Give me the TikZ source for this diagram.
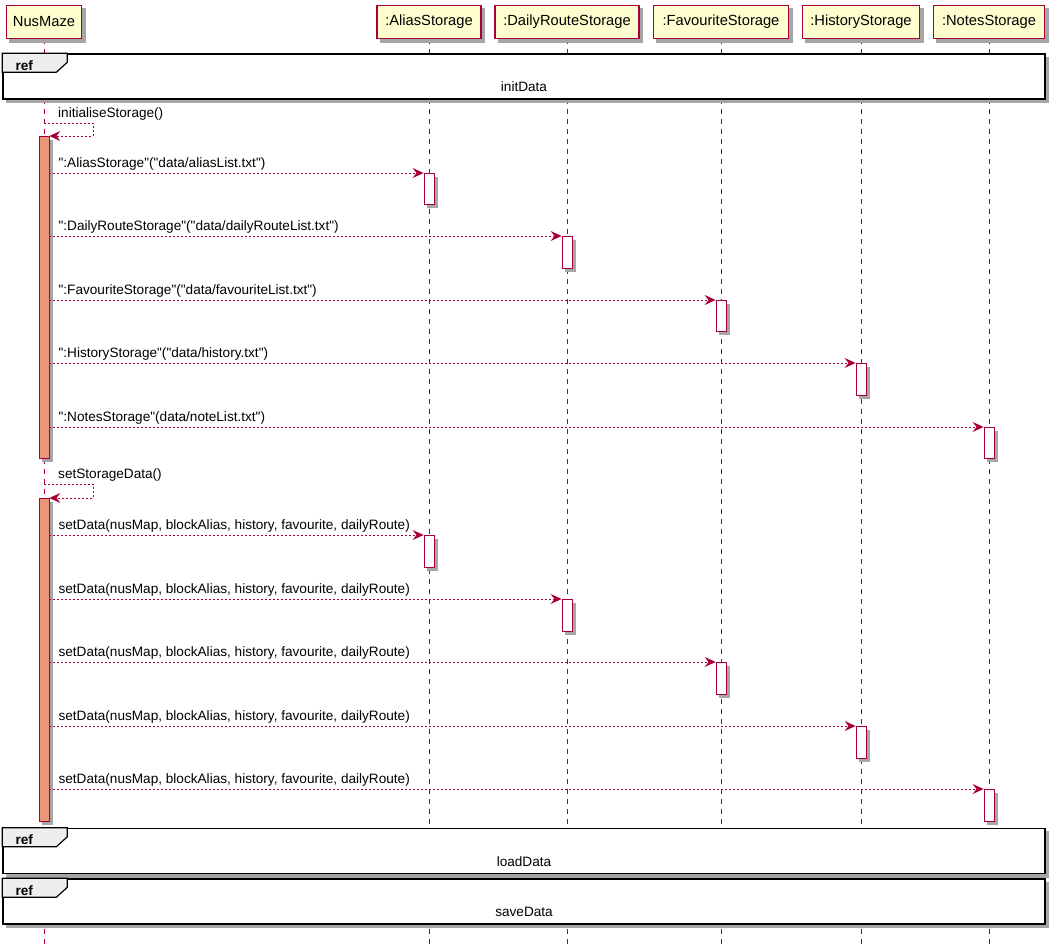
\documentclass[tikz,border=0pt]{standalone}
\usepackage{fontspec}
\setmainfont{Liberation Sans}[Ligatures=TeXOff]
\usetikzlibrary{arrows.meta,calc}
\definecolor{pu}{HTML}{A80036}
\definecolor{pbox}{HTML}{FEFECE}
\definecolor{actfill}{HTML}{E9967A}
\definecolor{tabfill}{HTML}{EEEEEE}
\definecolor{shadowc}{HTML}{A6A6A6}
\pgfdeclarelayer{lines}
\pgfdeclarelayer{shad}
\pgfsetlayers{lines,shad,main}
\newcommand{\dropsh}[1]{%
  \begin{pgfonlayer}{shad}
    \fill[shadowc] ($(#1.north west)+(3.5,3.5)$) rectangle ($(#1.south east)+(3.5,3.5)$);
  \end{pgfonlayer}}
\begin{document}
\begin{tikzpicture}[x=1pt,y=-1pt,
  font=\fontsize{13.6}{16}\selectfont,
  part/.style={draw=pu,line width=1.1pt,fill=pbox,minimum height=33,inner sep=0,font=\fontsize{14.7}{17}\selectfont},
  lifeline/.style={draw=pu,line width=0.8pt,dash pattern=on 5pt off 5pt},
  refframe/.style={draw=black,line width=1.4pt,fill=white,minimum width=1042,minimum height=45,inner sep=0},
  tabshape/.style={draw=black,line width=1.2pt,fill=tabfill},
  reflabel/.style={inner sep=0},
  bar/.style={draw=pu,line width=0.8pt,fill=white,minimum width=10,inner sep=0,anchor=north},
  mainbar/.style={bar,fill=actfill},
  msg/.style={draw=pu,line width=0.8pt,dash pattern=on 2pt off 2pt,-{Stealth[length=11pt,width=10pt,inset=4pt]}},
  lbl/.style={inner sep=0,anchor=base west}
]
\useasboundingbox (0,0) rectangle (1055,945);
% lifelines (lowest layer)
\begin{pgfonlayer}{lines}
\foreach \n/\x in {nus/44,alias/429,daily/567,fav/721,hist/861,notes/989}{
  \coordinate (\n-top) at (\x,39);
  \coordinate (\n-end) at (\x,945);
  \draw[lifeline] (\n-top) -- (\n-end);
}
\end{pgfonlayer}
% participants
\node[part,minimum width=75] (nus) at (44,22) {NusMaze};
\node[part,minimum width=104] (alias) at (429,22) {:AliasStorage};
\node[part,minimum width=144] (daily) at (567,22) {:DailyRouteStorage};
\node[part,minimum width=135] (fav) at (721,22) {:FavouriteStorage};
\node[part,minimum width=117] (hist) at (861,22) {:HistoryStorage};
\node[part,minimum width=111] (notes) at (989,22) {:NotesStorage};
\foreach \n in {nus,alias,daily,fav,hist,notes}{\dropsh{\n}}
% ref frames
\node[refframe] (ref1) at (524,76.5) {};
\node[refframe] (ref2) at (524,851) {};
\node[refframe] (ref3) at (524,901.5) {};
\foreach \r/\t in {ref1/initData,ref2/loadData,ref3/saveData}{
  \dropsh{\r}
  \draw[tabshape] (\r.north west) -- ++(65,0) -- ++(0,9) -- ++(-11,10) -- ($(\r.north west)+(0,19)$) -- cycle;
  \node[inner sep=0,font=\fontsize{13.6}{16}\selectfont\bfseries] (\r-tag) at ($(\r.north west)+(22,12)$) {ref};
  \node[reflabel] (\r-text) at ($(\r.center)+(0,10.5)$) {\t};
}
% activation bars
\node[mainbar,minimum height=322] (act1) at (44,136) {};
\node[mainbar,minimum height=323] (act2) at (44,498) {};
\node[bar,minimum height=31] (b1) at (429,173) {};
\node[bar,minimum height=32] (b2) at (567,236) {};
\node[bar,minimum height=31] (b3) at (721,300) {};
\node[bar,minimum height=32] (b4) at (861,363) {};
\node[bar,minimum height=31] (b5) at (989,427) {};
\node[bar,minimum height=32] (b6) at (429,535) {};
\node[bar,minimum height=32] (b7) at (567,599) {};
\node[bar,minimum height=32] (b8) at (721,662) {};
\node[bar,minimum height=32] (b9) at (861,726) {};
\node[bar,minimum height=32] (b10) at (989,789) {};
\foreach \n in {act1,act2,b1,b2,b3,b4,b5,b6,b7,b8,b9,b10}{\dropsh{\n}}
% self messages
\coordinate (s1) at (44,123);
\coordinate (s2) at (44,484);
\draw[msg] (s1) -- ++(49,0) |- (act1.north east);
\draw[msg] (s2) -- ++(49,0) |- (act2.north east);
\node[lbl] (l0) at (58,117) {initialiseStorage()};
\node[lbl] (l00) at (58,478) {setStorageData()};
% messages
\foreach \b/\a/\t in {b1/act1/{":AliasStorage"("data/aliasList.txt")},
                      b2/act1/{":DailyRouteStorage"("data/dailyRouteList.txt")},
                      b3/act1/{":FavouriteStorage"("data/favouriteList.txt")},
                      b4/act1/{":HistoryStorage"("data/history.txt")},
                      b5/act1/{":NotesStorage"(data/noteList.txt")},
                      b6/act2/{setData(nusMap, blockAlias, history, favourite, dailyRoute)},
                      b7/act2/{setData(nusMap, blockAlias, history, favourite, dailyRoute)},
                      b8/act2/{setData(nusMap, blockAlias, history, favourite, dailyRoute)},
                      b9/act2/{setData(nusMap, blockAlias, history, favourite, dailyRoute)},
                      b10/act2/{setData(nusMap, blockAlias, history, favourite, dailyRoute)}}{
  \draw[msg] (\a.east |- \b.north west) -- (\b.north west);
  \node[lbl] (\b-lbl) at ($(\a.east |- \b.north west)+(9,-6)$) {\t};
}
\end{tikzpicture}
\end{document}
